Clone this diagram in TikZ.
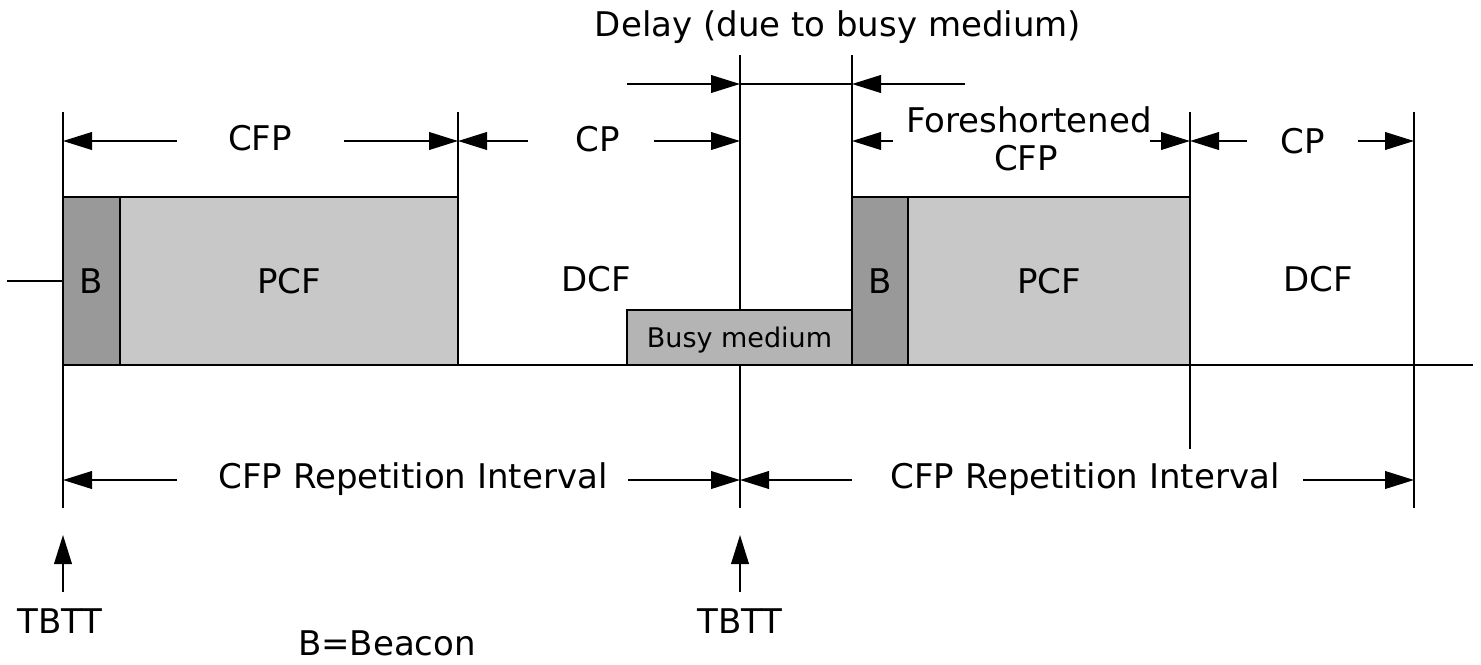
\documentclass[tikz,border=0pt]{standalone}
\usepackage{fontspec}
\setmainfont{DejaVu Sans}
\usetikzlibrary{arrows.meta}
\definecolor{beaconfill}{RGB}{153,153,153}
\definecolor{pcffill}{RGB}{200,200,200}
\definecolor{busyfill}{RGB}{180,180,180}
\tikzset{
  lbl/.style={font=\fontsize{17pt}{20pt}\selectfont, anchor=base, inner sep=0pt},
  slot/.style={draw=black, line width=1pt, inner sep=0pt, outer sep=0pt,
    font=\fontsize{17pt}{20pt}\selectfont, text height=12.5pt, text depth=0pt},
  dimarrow/.style={-{Triangle[length=14.5pt,width=8.8pt]}, line width=1pt},
  thin/.style={line width=1pt}
}
\begin{document}
\begin{tikzpicture}[x=0.5pt,y=-0.5pt]
\useasboundingbox (0,0) rectangle (1481,664);

% vertical guide lines
\coordinate (v0t) at (63,112);   \coordinate (v0b) at (63,508);
\coordinate (v1t) at (458,112);  \coordinate (v1b) at (458,365);
\coordinate (v2t) at (740,55);   \coordinate (v2b) at (740,508);
\coordinate (v3t) at (852,55);   \coordinate (v3b) at (852,365);
\coordinate (v4t) at (1190,112); \coordinate (v4b) at (1190,449);
\coordinate (v5t) at (1414,112); \coordinate (v5b) at (1414,508);
\coordinate (lin) at (7,281);
\coordinate (axisL) at (63,365); \coordinate (axisR) at (1473,365);

\draw[thin] (v0t) -- (v0b);
\draw[thin] (v1t) -- (v1b);
\draw[thin] (v2t) -- (v2b);
\draw[thin] (v3t) -- (v3b);
\draw[thin] (v4t) -- (v4b);
\draw[thin] (v5t) -- (v5b);
\draw[thin] (axisL) -- (axisR);

% slots
\node[slot, fill=beaconfill, minimum width=28.5pt, minimum height=84pt] (b1) at (91.5,281) {B};
\node[slot, fill=pcffill, minimum width=169pt, minimum height=84pt] (p1) at (289,281) {PCF};
\node[slot, fill=busyfill, minimum width=112.5pt, minimum height=27.5pt,
      font=\fontsize{13.5pt}{16pt}\selectfont, text height=10pt] (busy) at (739.5,337) {Busy medium};
\node[slot, fill=beaconfill, minimum width=28pt, minimum height=84pt] (b2) at (880,281) {B};
\node[slot, fill=pcffill, minimum width=141pt, minimum height=84pt] (p2) at (1049,281) {PCF};
\draw[thin] (lin) -- (b1.west);

\node[lbl] (dcf1) at (596,291) {DCF};
\node[lbl] (dcf2) at (1318,291) {DCF};

% top labels
\node[lbl] (delay) at (838,36) {Delay (due to busy medium)};
\node[lbl] (cfp1) at (260,150) {CFP};
\node[lbl] (cp1) at (598,151) {CP};
\node[lbl] (fore1) at (1029,132) {Foreshortened};
\node[lbl] (fore2) at (1026,170) {CFP};
\node[lbl] (cp2) at (1303,153) {CP};

% delay arrows
\coordinate (d1s) at (627,84);  \coordinate (d1e) at (740,84);
\coordinate (d2s) at (965,84);  \coordinate (d2e) at (852,84);
\draw[dimarrow] (d1s) -- (d1e);
\draw[thin] (d1e) -- (d2e);
\draw[dimarrow] (d2s) -- (d2e);

% CFP / CP arrows
\coordinate (a1s) at (177,141); \coordinate (a1e) at (63,141);
\coordinate (a2s) at (344,141); \coordinate (a2e) at (458,141);
\coordinate (a3s) at (528,141); \coordinate (a3e) at (458,141);
\coordinate (a4s) at (654,141); \coordinate (a4e) at (740,141);
\coordinate (a5s) at (893,141); \coordinate (a5e) at (852,141);
\coordinate (a6s) at (1150,141); \coordinate (a6e) at (1190,141);
\coordinate (a7s) at (1247,141); \coordinate (a7e) at (1190,141);
\coordinate (a8s) at (1358,141); \coordinate (a8e) at (1414,141);
\foreach \s/\e in {a1s/a1e,a2s/a2e,a3s/a3e,a4s/a4e,a5s/a5e,a6s/a6e,a7s/a7e,a8s/a8e}
  \draw[dimarrow] (\s) -- (\e);

% repetition interval
\node[lbl] (rep1) at (413,488) {CFP Repetition Interval};
\node[lbl] (rep2) at (1085,488) {CFP Repetition Interval};
\coordinate (r1s) at (177,480);  \coordinate (r1e) at (63,480);
\coordinate (r2s) at (628,480);  \coordinate (r2e) at (740,480);
\coordinate (r3s) at (852,480);  \coordinate (r3e) at (740,480);
\coordinate (r4s) at (1303,480); \coordinate (r4e) at (1414,480);
\foreach \s/\e in {r1s/r1e,r2s/r2e,r3s/r3e,r4s/r4e}
  \draw[dimarrow] (\s) -- (\e);

% TBTT markers
\node[lbl] (tbtt1) at (60,633) {TBTT};
\node[lbl] (tbtt2) at (740,633) {TBTT};
\coordinate (u1s) at (63,592); \coordinate (u1e) at (63,535);
\coordinate (u2s) at (740,592); \coordinate (u2e) at (740,535);
\draw[dimarrow] (u1s) -- (u1e);
\draw[dimarrow] (u2s) -- (u2e);

\node[lbl] (beacon) at (387,655) {B=Beacon};
\end{tikzpicture}
\end{document}
